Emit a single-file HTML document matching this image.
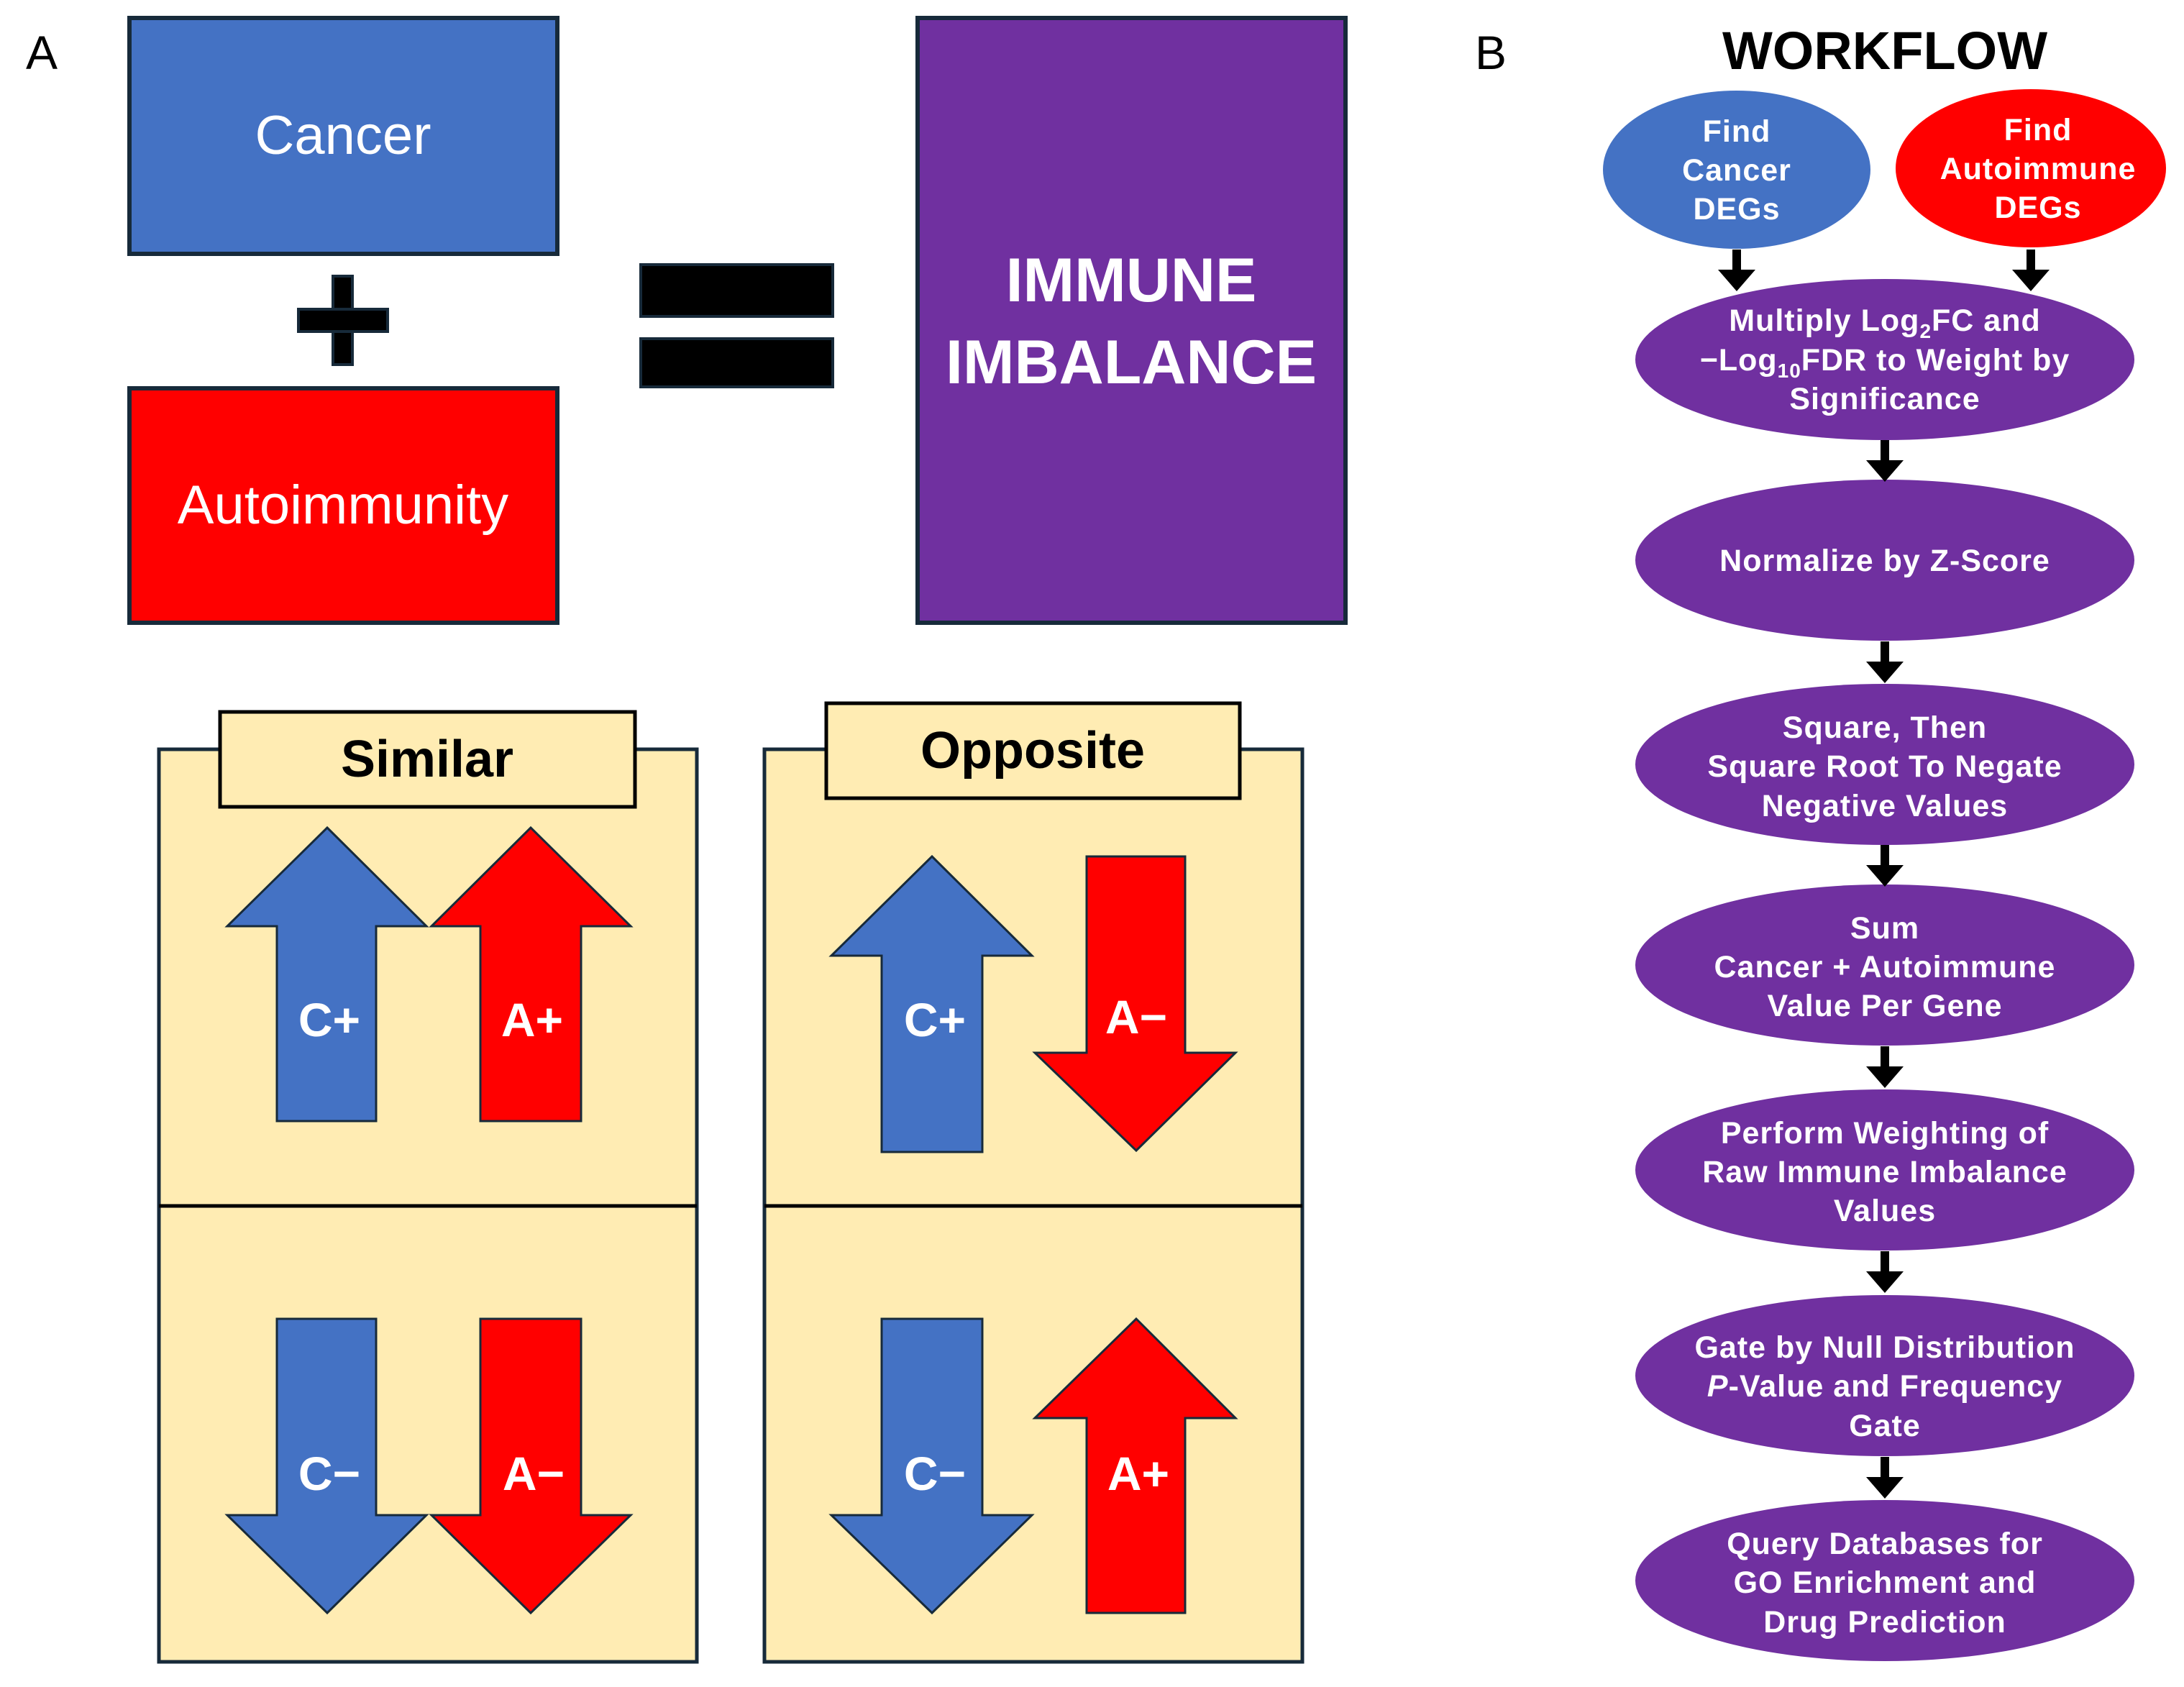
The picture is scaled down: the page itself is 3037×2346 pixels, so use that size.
<!DOCTYPE html>
<html><head><meta charset="utf-8"><style>html,body{margin:0;padding:0;background:#fff}svg{display:block}</style></head>
<body>
<svg width="3037" height="2346" viewBox="0 0 3037 2346" xmlns="http://www.w3.org/2000/svg">
<defs>
<g id="dn"><rect x="-6" y="0" width="12" height="30" fill="#000"/><polygon points="-26,28 26,28 0,58" fill="#000"/></g>
</defs>
<g font-family="Liberation Sans, sans-serif">
<text x="58" y="96" font-size="66" fill="#000" text-anchor="middle">A</text>
<rect x="180" y="25" width="595" height="328" fill="#4472c4" stroke="#172a3a" stroke-width="6"/>
<text x="477" y="214" font-size="76" fill="#fff" text-anchor="middle">Cancer</text>
<rect x="180" y="540" width="595" height="326" fill="#ff0000" stroke="#172a3a" stroke-width="6"/>
<text x="477" y="728" font-size="76" fill="#fff" text-anchor="middle">Autoimmunity</text>
<rect x="463" y="384" width="27" height="123" fill="#000" stroke="#172a3a" stroke-width="4"/>
<rect x="415" y="430" width="124" height="31" fill="#000" stroke="#172a3a" stroke-width="4"/>
<rect x="463" y="432" width="27" height="27" fill="#000"/>
<rect x="891" y="368" width="267" height="72" fill="#000" stroke="#172a3a" stroke-width="4"/>
<rect x="891" y="471" width="267" height="67" fill="#000" stroke="#172a3a" stroke-width="4"/>
<rect x="1276" y="25" width="595" height="841" fill="#7030a0" stroke="#172a3a" stroke-width="6"/>
<text x="1573" y="419" font-size="86" font-weight="bold" fill="#fff" text-anchor="middle">IMMUNE</text>
<text x="1573" y="533" font-size="86" font-weight="bold" fill="#fff" text-anchor="middle">IMBALANCE</text>

<rect x="221" y="1042" width="748" height="1269" fill="#ffecb3" stroke="#172a3a" stroke-width="5"/>
<line x1="221" y1="1677" x2="969" y2="1677" stroke="#000" stroke-width="5"/>
<rect x="306" y="990" width="577" height="132" fill="#ffecb3" stroke="#000" stroke-width="5"/>
<text x="594" y="1080" font-size="72" font-weight="bold" fill="#000" text-anchor="middle">Similar</text>
<rect x="1063" y="1042" width="748" height="1269" fill="#ffecb3" stroke="#172a3a" stroke-width="5"/>
<line x1="1063" y1="1677" x2="1811" y2="1677" stroke="#000" stroke-width="5"/>
<rect x="1149" y="978" width="575" height="132" fill="#ffecb3" stroke="#000" stroke-width="5"/>
<text x="1436" y="1068" font-size="72" font-weight="bold" fill="#000" text-anchor="middle">Opposite</text>

<g stroke="#172a3a" stroke-width="3" stroke-linejoin="miter">
<polygon points="455,1151 593,1288 523,1288 523,1559 385,1559 385,1288 316,1288" fill="#4472c4"/>
<polygon points="738,1151 877,1288 808,1288 808,1559 668,1559 668,1288 600,1288" fill="#ff0000"/>
<polygon points="385,1834 523,1834 523,2107 593,2107 455,2243 316,2107 385,2107" fill="#4472c4"/>
<polygon points="668,1834 808,1834 808,2107 877,2107 738,2243 600,2107 668,2107" fill="#ff0000"/>
<polygon points="1296,1191 1435,1329 1366,1329 1366,1602 1226,1602 1226,1329 1156,1329" fill="#4472c4"/>
<polygon points="1511,1191 1648,1191 1648,1464 1718,1464 1580,1600 1439,1464 1511,1464" fill="#ff0000"/>
<polygon points="1226,1834 1366,1834 1366,2107 1435,2107 1296,2243 1156,2107 1226,2107" fill="#4472c4"/>
<polygon points="1580,1834 1718,1972 1648,1972 1648,2243 1511,2243 1511,1972 1439,1972" fill="#ff0000"/>
</g>
<g font-size="66" font-weight="bold" fill="#fff" text-anchor="middle">
<text x="458" y="1441">C+</text><text x="740" y="1441">A+</text>
<text x="458" y="2072">C−</text><text x="742" y="2072">A−</text>
<text x="1300" y="1441">C+</text><text x="1580" y="1437">A−</text>
<text x="1300" y="2072">C−</text><text x="1583" y="2072">A+</text>
</g>

<text x="2073" y="96" font-size="66" fill="#000" text-anchor="middle">B</text>
<text x="2621" y="96" font-size="74" font-weight="bold" fill="#000" text-anchor="middle">WORKFLOW</text>
<ellipse cx="2415" cy="236" rx="186" ry="110" fill="#4472c4"/>
<ellipse cx="2824" cy="234" rx="188" ry="110" fill="#ff0000"/>
<g fill="#7030a0">
<ellipse cx="2621" cy="500" rx="347" ry="112"/>
<ellipse cx="2621" cy="779" rx="347" ry="112"/>
<ellipse cx="2621" cy="1063" rx="347" ry="112"/>
<ellipse cx="2621" cy="1342" rx="347" ry="112"/>
<ellipse cx="2621" cy="1627" rx="347" ry="112"/>
<ellipse cx="2621" cy="1913" rx="347" ry="112"/>
<ellipse cx="2621" cy="2198" rx="347" ry="112"/>
</g>
<use href="#dn" x="2415" y="347"/>
<use href="#dn" x="2824" y="347"/>
<use href="#dn" x="2621" y="612"/>
<use href="#dn" x="2621" y="892"/>
<use href="#dn" x="2621" y="1175"/>
<use href="#dn" x="2621" y="1455"/>
<use href="#dn" x="2621" y="1740"/>
<use href="#dn" x="2621" y="2026"/>
<g font-size="43" font-weight="bold" fill="#fff" text-anchor="middle" letter-spacing="1">
<text x="2415" y="197">Find</text><text x="2415" y="251">Cancer</text><text x="2415" y="305">DEGs</text>
<text x="2834" y="195">Find</text><text x="2834" y="249">Autoimmune</text><text x="2834" y="303">DEGs</text>
<text x="2621" y="460">Multiply Log<tspan font-size="28" dy="10">2</tspan><tspan dy="-10">FC and</tspan></text>
<text x="2621" y="515">−Log<tspan font-size="28" dy="10">10</tspan><tspan dy="-10">FDR to Weight by</tspan></text>
<text x="2621" y="569">Significance</text>
<text x="2621" y="794">Normalize by Z-Score</text>
<text x="2621" y="1026">Square, Then</text><text x="2621" y="1080">Square Root To Negate</text><text x="2621" y="1135">Negative Values</text>
<text x="2621" y="1305">Sum</text><text x="2621" y="1359">Cancer + Autoimmune</text><text x="2621" y="1413">Value Per Gene</text>
<text x="2621" y="1590">Perform Weighting of</text><text x="2621" y="1644">Raw Immune Imbalance</text><text x="2621" y="1698">Values</text>
<text x="2621" y="1888">Gate by Null Distribution</text><text x="2621" y="1942"><tspan font-style="italic">P</tspan>-Value and Frequency</text><text x="2621" y="1997">Gate</text>
<text x="2621" y="2161">Query Databases for</text><text x="2621" y="2215">GO Enrichment and</text><text x="2621" y="2270">Drug Prediction</text>
</g>
</g>
</svg>
</body></html>
